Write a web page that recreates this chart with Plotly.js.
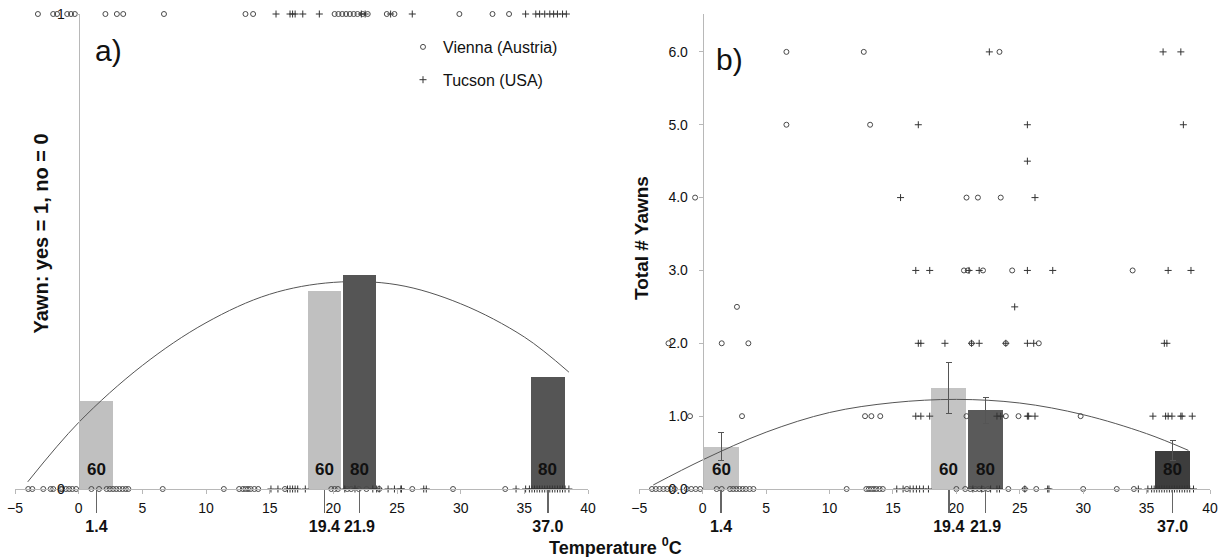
<!DOCTYPE html>
<html>
<head>
<meta charset="utf-8">
<script src="https://cdn.plot.ly/plotly-3.0.1.min.js"></script>
<style>html,body{margin:0;padding:0;background:#fff;}#chart{width:1221px;height:557px;}</style>
</head>
<body>
<div id="chart"></div>
<script>
// ---------------- DATA ----------------
const barLabels = ['1.4', '19.4', '21.9', '37.0'];
const barXLeft  = [1.4, 19.3, 22.05, 36.85];
const barXRight = [1.45, 19.4, 22.3, 37.05];
const sampleN   = [60, 60, 80, 80];
const propYawn  = [0.185, 0.417, 0.45, 0.236];
const meanYawns = [0.58, 1.38, 1.08, 0.52];
const errPlus   = [0.20, 0.35, 0.17, 0.14];
const errMinus  = [0.19, 0.34, 0.18, 0.13];

const fitXLeft  = [-4, 0, 5, 10, 15, 20, 25, 30, 35, 38.5];
const fitYLeft  = [0.015, 0.14, 0.26, 0.35, 0.41, 0.435, 0.43, 0.39, 0.32, 0.246];
const fitXRight = [-3.9, 0, 5, 10, 15, 20, 25, 30, 35, 38.3];
const fitYRight = [0.055, 0.40, 0.78, 1.05, 1.185, 1.23, 1.18, 1.02, 0.76, 0.53];

// panel a: yawned (1) / did not yawn (0)
const viennaYesX = [-3.2, -2.0, -1.7, -0.9, -0.6, -0.3, 2.1, 3.0, 3.5, 6.7, 13.1, 13.7, 20.1, 20.4, 20.7, 21.0, 21.3, 21.6, 21.9, 22.3, 22.7, 24.2, 24.8, 29.9, 32.5, 33.8];
const tucsonYesX = [15.5, 16.6, 16.8, 17.0, 17.6, 18.9, 22.2, 22.5, 24.5, 26.2, 35.1, 35.9, 36.2, 36.6, 37.0, 37.3, 37.6, 38.0, 38.3];
const viennaNoX  = [-3.96, -3.64, -2.78, -2.2, -2.0, -1.4, -1.3, -1.0, -0.75, -0.5, -0.2, 1.0, 1.6, 2.2, 2.45, 2.7, 2.95, 3.2, 3.45, 3.7, 3.9, 6.6, 11.4, 12.6, 12.9, 13.1, 13.3, 13.5, 13.8, 14.1, 16.2, 19.84, 20.1, 20.36, 21.1, 21.4, 22.0, 22.6, 23.6, 26.2, 29.4, 33.5];
const tucsonNoX  = [15.1, 15.65, 16.4, 16.6, 16.8, 17.0, 17.2, 17.8, 20.9, 21.7, 23.1, 23.4, 23.6, 24.3, 24.8, 25.3, 25.35, 27.1, 27.3, 34.35, 35.1, 35.4, 35.6, 35.8, 36.0, 36.2, 36.4, 36.6, 36.8, 37.0, 37.2, 37.4, 37.6, 37.8, 38.0, 38.2, 38.5];

// panel b: total number of yawns
const viennaTotX = [6.6, 12.7, 23.4, 6.6, 13.2, -0.6, 20.8, 21.7, 23.5, 20.6, 20.9, 22.1, 24.4, 33.9, 2.7, -2.7, 1.5, 3.6, 21.2, 23.9, 26.5, -1.0, 3.1, 12.8, 13.3, 14.0, 20.8, 23.9, 24.9, 29.8,
  -4.0, -3.7, -3.4, -3.1, -2.8, -2.5, -2.2, -1.26, -0.9, -0.55, -0.2, 1.1, 1.5, 2.15, 2.4, 2.65, 2.9, 3.15, 3.4, 3.7, 4.0, 11.35, 12.9, 13.1, 13.3, 13.5, 13.7, 13.95, 14.2, 16.1, 20.0, 20.7, 21.1, 21.5, 21.8, 22.1, 22.5, 24.1, 25.4, 26.3, 30.0, 32.65, 34.0];
const viennaTotY = [6, 6, 6, 5, 5, 4, 4, 4, 4, 3, 3, 3, 3, 3, 2.5, 2, 2, 2, 2, 2, 2, 1, 1, 1, 1, 1, 1, 1, 1, 1,
  0, 0, 0, 0, 0, 0, 0, 0, 0, 0, 0, 0, 0, 0, 0, 0, 0, 0, 0, 0, 0, 0, 0, 0, 0, 0, 0, 0, 0, 0, 0, 0, 0, 0, 0, 0, 0, 0, 0, 0, 0, 0, 0];
const tucsonTotX = [22.6, 36.3, 37.7, 17.0, 25.6, 37.9, 25.6, 15.6, 26.2, 16.8, 17.9, 21.0, 21.8, 25.6, 27.6, 36.7, 38.5, 24.6, 17.0, 17.2, 19.1, 21.2, 21.8, 23.9, 25.6, 26.1, 36.4, 36.6,
  16.8, 17.2, 17.9, 23.2, 23.5, 25.6, 25.7, 26.2, 35.5, 36.5, 36.7, 37.0, 37.7, 37.8, 38.6,
  15.3, 15.8, 16.35, 16.6, 16.85, 17.1, 17.4, 17.8, 21.3, 22.0, 22.7, 23.2, 23.4, 25.4, 27.2, 27.3, 34.35, 35.1, 35.4, 35.6, 35.8, 36.0, 36.2, 36.4, 36.6, 36.8, 37.0, 37.2, 37.4, 37.6, 37.8, 38.0, 38.2, 38.4, 38.7];
const tucsonTotY = [6, 6, 6, 5, 5, 5, 4.5, 4, 4, 3, 3, 3, 3, 3, 3, 3, 3, 2.5, 2, 2, 2, 2, 2, 2, 2, 2, 2, 2,
  1, 1, 1, 1, 1, 1, 1, 1, 1, 1, 1, 1, 1, 1, 1,
  0, 0, 0, 0, 0, 0, 0, 0, 0, 0, 0, 0, 0, 0, 0, 0, 0, 0, 0, 0, 0, 0, 0, 0, 0, 0, 0, 0, 0, 0, 0, 0, 0, 0, 0];

const xTicks = [-5, 0, 5, 10, 15, 20, 25, 30, 35, 40];
const yTicksRight = [0, 1, 2, 3, 4, 5, 6];
const yTickTextRight = ['0.0', '1.0', '2.0', '3.0', '4.0', '5.0', '6.0'];

// ---------------- LAYOUT HELPERS ----------------
const W = 1221, H = 557;
const FONT = 'Liberation Sans, Arial, sans-serif';
const xDomL = [15 / W, 588 / W];
const xDomR = [639.3 / W, 1210 / W];
const yDom = [68 / H, 543 / H];
const xr = [-5, 40];
const zeroPos = d => d[0] + (0 - xr[0]) / (xr[1] - xr[0]) * (d[1] - d[0]);
const pxX = v => v / W, pxY = v => 1 - v / H;

const leftCols = ['#c0c0c0', '#c0c0c0', '#555555', '#555555'];
const rightCols = ['#c4c4c4', '#c4c4c4', '#5a5a5a', '#3d3d3d'];
const ptCol = '#4a4a4a';

const traces = [
  {type: 'bar', x: barXLeft, y: propYawn, width: 2.65, xaxis: 'x', yaxis: 'y',
   marker: {color: leftCols, line: {width: 0}}, showlegend: false, hoverinfo: 'skip'},
  {type: 'bar', x: barXRight, y: meanYawns, width: 2.75, xaxis: 'x2', yaxis: 'y2',
   marker: {color: rightCols, line: {width: 0}}, showlegend: false, hoverinfo: 'skip',
   error_y: {type: 'data', symmetric: false, array: errPlus, arrayminus: errMinus, color: '#555', thickness: 1, width: 3}},
  {type: 'scatter', mode: 'lines', x: fitXLeft, y: fitYLeft, xaxis: 'x', yaxis: 'y',
   line: {color: '#555', width: 1, shape: 'spline', smoothing: 1}, showlegend: false, hoverinfo: 'skip'},
  {type: 'scatter', mode: 'lines', x: fitXRight, y: fitYRight, xaxis: 'x2', yaxis: 'y2',
   line: {color: '#555', width: 1, shape: 'spline', smoothing: 1}, showlegend: false, hoverinfo: 'skip'},
  {type: 'scatter', mode: 'markers', name: 'Vienna (Austria)', legendgroup: 'v',
   x: viennaYesX.concat(viennaNoX), y: viennaYesX.map(() => 1).concat(viennaNoX.map(() => 0)),
   xaxis: 'x', yaxis: 'y', cliponaxis: false,
   marker: {symbol: 'circle-open', size: 5, color: ptCol, line: {width: 1, color: ptCol}}},
  {type: 'scatter', mode: 'markers', name: 'Tucson (USA)', legendgroup: 't',
   x: tucsonYesX.concat(tucsonNoX), y: tucsonYesX.map(() => 1).concat(tucsonNoX.map(() => 0)),
   xaxis: 'x', yaxis: 'y', cliponaxis: false,
   marker: {symbol: 'cross-thin-open', size: 5, color: '#333', line: {width: 1, color: '#333'}}},
  {type: 'scatter', mode: 'markers', name: 'Vienna (Austria)', legendgroup: 'v', showlegend: false,
   x: viennaTotX, y: viennaTotY, xaxis: 'x2', yaxis: 'y2', cliponaxis: false,
   marker: {symbol: 'circle-open', size: 5, color: ptCol, line: {width: 1, color: ptCol}}},
  {type: 'scatter', mode: 'markers', name: 'Tucson (USA)', legendgroup: 't', showlegend: false,
   x: tucsonTotX, y: tucsonTotY, xaxis: 'x2', yaxis: 'y2', cliponaxis: false,
   marker: {symbol: 'cross-thin-open', size: 5, color: '#333', line: {width: 1, color: '#333'}}},
  // carriers for the overlaid group-temperature axes
  {type: 'scatter', mode: 'markers', x: barXLeft, y: propYawn, xaxis: 'x3', yaxis: 'y',
   marker: {opacity: 0}, showlegend: false, hoverinfo: 'skip'},
  {type: 'scatter', mode: 'markers', x: barXRight, y: meanYawns, xaxis: 'x4', yaxis: 'y2',
   marker: {opacity: 0}, showlegend: false, hoverinfo: 'skip'}
];

const baseX = {
  range: xr, showline: true, linecolor: '#b8b8b8', linewidth: 1, ticks: 'outside', ticklen: 4,
  tickcolor: '#b8b8b8', tickvals: xTicks, tickfont: {family: FONT, size: 14, color: '#111'},
  showgrid: false, zeroline: false, fixedrange: true, ticklabelstandoff: 2
};
const groupX = {
  range: xr, showline: false, showgrid: false, zeroline: false, ticks: 'outside', ticklen: 23,
  tickcolor: '#666', tickwidth: 1.5, ticktext: barLabels,
  tickfont: {family: FONT, size: 16, color: '#111', weight: 'bold'}, fixedrange: true
};

const annotations = [];
barXLeft.forEach((x, i) => annotations.push({xref: 'x', yref: 'y', x: x, y: 0, xanchor: 'center', yanchor: 'bottom', yshift: 8,
  showarrow: false, text: '<b>' + sampleN[i] + '</b>', font: {family: FONT, size: 17, color: '#111'}}));
barXRight.forEach((x, i) => annotations.push({xref: 'x2', yref: 'y2', x: x, y: 0, xanchor: 'center', yanchor: 'bottom', yshift: 8,
  showarrow: false, text: '<b>' + sampleN[i] + '</b>', font: {family: FONT, size: 17, color: '#111'}}));
const paperText = (x, y, text, size, extra) => Object.assign({xref: 'paper', yref: 'paper', x: pxX(x), y: pxY(y),
  xanchor: 'center', yanchor: 'middle', text: text, showarrow: false, font: {family: FONT, size: size, color: '#111'}}, extra || {});
annotations.push(
  paperText(108, 50, 'a)', 30),
  paperText(729, 60, 'b)', 30),
  paperText(40.5, 233, '<b>Yawn: yes = 1, no = 0</b>', 20, {textangle: -90}),
  paperText(641, 238, '<b>Total # Yawns</b>', 19, {textangle: -90}),
  paperText(615, 546, '<b>Temperature <sup>0</sup>C</b>', 18)
);

const layout = {
  width: W, height: H, margin: {l: 0, r: 0, t: 0, b: 0},
  paper_bgcolor: '#fff', plot_bgcolor: 'rgba(0,0,0,0)',
  font: {family: FONT, color: '#111'},
  barmode: 'overlay', bargap: 0,
  xaxis: Object.assign({}, baseX, {domain: xDomL, anchor: 'y'}),
  xaxis2: Object.assign({}, baseX, {domain: xDomR, anchor: 'y2'}),
  xaxis3: Object.assign({}, groupX, {overlaying: 'x', anchor: 'y', tickvals: barXLeft}),
  xaxis4: Object.assign({}, groupX, {overlaying: 'x2', anchor: 'y2', tickvals: barXRight}),
  yaxis: {domain: yDom, range: [0, 1], anchor: 'free', position: zeroPos(xDomL), showline: true,
    linecolor: '#b8b8b8', linewidth: 1, ticks: 'outside', ticklen: 3, tickcolor: '#b8b8b8',
    tickvals: [0, 1], ticktext: ['0', '1'], tickfont: {family: FONT, size: 14, color: '#111'},
    showgrid: false, zeroline: false, fixedrange: true, ticklabelstandoff: 8},
  yaxis2: {domain: yDom, range: [0, 6.52], anchor: 'free', position: zeroPos(xDomR), showline: true,
    linecolor: '#b8b8b8', linewidth: 1, ticks: 'outside', ticklen: 4, tickcolor: '#b8b8b8',
    tickvals: yTicksRight, ticktext: yTickTextRight,
    tickfont: {family: 'Liberation Sans Narrow, Arial Narrow, ' + FONT, size: 14, color: '#111'},
    showgrid: false, zeroline: false, fixedrange: true, ticklabelstandoff: 8},
  showlegend: true,
  legend: {x: pxX(403), y: pxY(30), xanchor: 'left', yanchor: 'top', bgcolor: 'rgba(0,0,0,0)',
    font: {family: FONT, size: 16, color: '#111'}, traceorder: 'grouped', tracegroupgap: 9, itemwidth: 30},
  annotations: annotations
};

Plotly.newPlot('chart', traces, layout, {staticPlot: true, displayModeBar: false});
</script>
</body>
</html>
